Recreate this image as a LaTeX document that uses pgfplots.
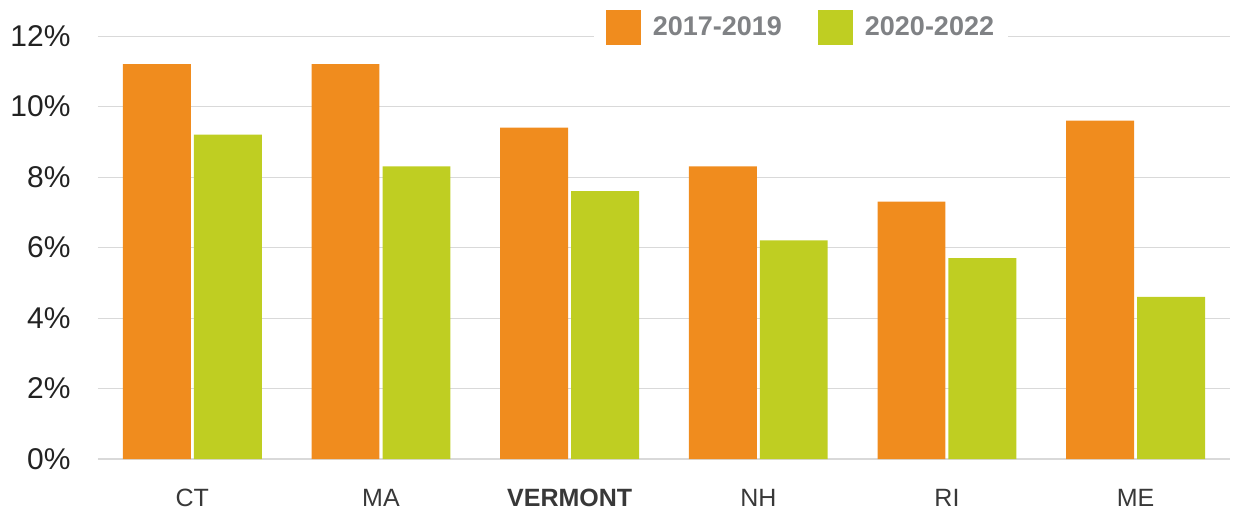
\documentclass[border=0pt]{standalone}
\usepackage{pgfplots}
\pgfplotsset{compat=1.18}
\usepackage{fontspec}
\setmainfont{Liberation Sans}
\definecolor{corange}{HTML}{F08C1E}
\definecolor{cgreen}{HTML}{BFCE22}
\definecolor{gridc}{HTML}{D9D9D9}
\definecolor{legtext}{HTML}{808285}
\definecolor{ticktext}{HTML}{222222}
\pgfplotstableread{
x a b
0 11.2 9.2
1 11.2 8.3
2 9.4 7.6
3 8.3 6.2
4 7.3 5.7
5 9.6 4.6
}\datatable
\begin{document}
\begin{tikzpicture}
\path[use as bounding box] (-98pt,-52pt) rectangle (1140pt,459pt);
\begin{axis}[
  scale only axis,
  width=1132pt, height=423pt,
  xmin=-0.5, xmax=5.5,
  ymin=0, ymax=12,
  ytick={0,2,4,6,8,10,12},
  yticklabel={\pgfmathprintnumber{\tick}\%},
  /pgf/number format/assume math mode=true,
  xtick={0,1,2,3,4,5},
  xticklabels={CT,MA,\textbf{VERMONT},NH,RI,ME},
  axis y line*=left,
  y axis line style={draw=none},
  axis x line*=bottom,
  x axis line style={draw=gridc, line width=1.5pt, -},
  ymajorgrids,
  grid style={gridc, line width=0.8pt},
  major tick length=0pt,
  yticklabel style={font=\fontsize{30}{34}\selectfont, text=ticktext, anchor=east, xshift=-24pt},
  xticklabel style={font=\fontsize{25}{30}\selectfont, text=ticktext!90!white, yshift=-27pt},
  ybar, bar width=0.36,
  legend columns=2,
  legend style={at={(rel axis cs:0.621,1.021)}, anchor=center, draw=none, fill=white,
    font=\fontsize{27}{30}\selectfont\bfseries, text=legtext,
    /tikz/every odd column/.append style={column sep=10pt},
    /tikz/every even column/.append style={column sep=34pt},
    inner xsep=12pt, inner ysep=2pt},
  legend image code/.code={\fill[#1] (0pt,-17.5pt) rectangle (35pt,17.5pt);},
]
\addplot[fill=corange, draw=none, bar shift=-0.188] table[x=x,y=a] {\datatable};
\addplot[fill=cgreen, draw=none, bar shift=0.188] table[x=x,y=b] {\datatable};
\legend{2017-2019,2020-2022}
\end{axis}
\end{tikzpicture}
\end{document}
